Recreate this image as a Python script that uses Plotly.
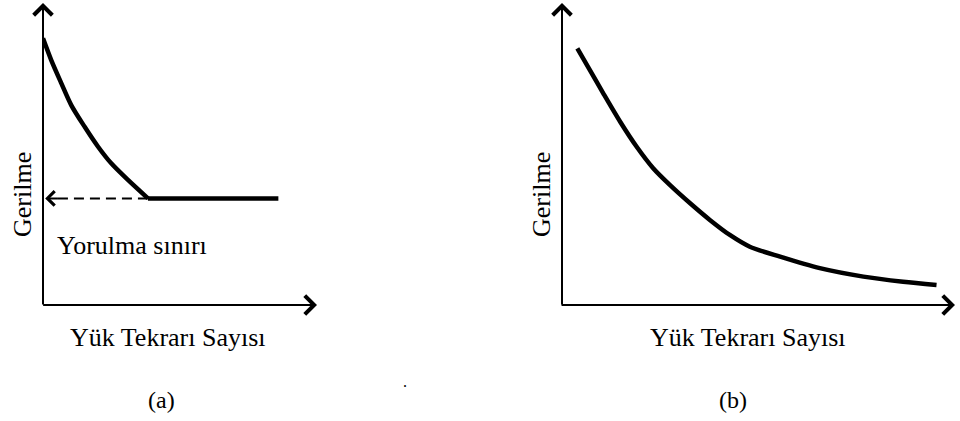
import plotly.graph_objects as go

# ---- data (schematic S-N curves, arbitrary units 0-10) ----
a_cycles = [0.00, 0.30, 0.67, 1.03, 1.52, 2.01, 2.49, 3.10, 3.83]
a_stress = [8.83, 8.11, 7.34, 6.62, 5.90, 5.24, 4.69, 4.14, 3.53]
a_limit_cycles = [3.83, 8.59]
fatigue_limit = 3.53
a_dash_cycles = [3.83, 0.45]

b_cycles = [0.39, 0.71, 1.05, 1.48, 1.90, 2.32, 2.75, 3.26, 3.77, 4.27, 4.78,
            5.55, 6.56, 7.67, 8.68, 9.53]
b_stress = [8.50, 7.78, 7.01, 6.07, 5.24, 4.53, 3.97, 3.37, 2.81, 2.32, 1.93,
            1.60, 1.22, 0.94, 0.77, 0.66]

y_label = "Gerilme"
x_label = "Yük Tekrarı Sayısı"
limit_label = "Yorulma sınırı"
panel_labels = ["(a)", "(b)"]

W, H = 960, 421
FONT = "Liberation Serif, Times New Roman, serif"


def px(x):
    return x / W


def py(y):
    return 1 - y / H


fig = go.Figure()

CURVE_W = 4.5
# panel (a)
fig.add_trace(go.Scatter(x=a_cycles, y=a_stress, mode="lines",
                         line=dict(color="black", width=CURVE_W, shape="spline", smoothing=0.8),
                         xaxis="x", yaxis="y", hoverinfo="skip"))
fig.add_trace(go.Scatter(x=a_limit_cycles, y=[fatigue_limit] * len(a_limit_cycles), mode="lines",
                         line=dict(color="black", width=CURVE_W),
                         xaxis="x", yaxis="y", hoverinfo="skip"))
fig.add_trace(go.Scatter(x=a_dash_cycles, y=[fatigue_limit] * len(a_dash_cycles), mode="lines",
                         line=dict(color="black", width=2, dash="10px,6px"),
                         xaxis="x", yaxis="y", hoverinfo="skip"))
# panel (b)
fig.add_trace(go.Scatter(x=b_cycles, y=b_stress, mode="lines",
                         line=dict(color="black", width=CURVE_W, shape="spline", smoothing=0.8),
                         xaxis="x2", yaxis="y2", hoverinfo="skip"))

ax_common = dict(visible=False, range=[0, 10], showgrid=False, zeroline=False, fixedrange=True)
fig.update_layout(
    width=W, height=H,
    margin=dict(l=0, r=0, t=0, b=0),
    paper_bgcolor="white", plot_bgcolor="white",
    showlegend=False,
    xaxis=dict(domain=[px(43), px(317)], **ax_common),
    yaxis=dict(domain=[py(305), py(3)], **ax_common),
    xaxis2=dict(domain=[px(562), px(955)], anchor="y2", **ax_common),
    yaxis2=dict(domain=[py(305), py(3)], anchor="x2", **ax_common),
)

annotations = []


def arrow(xref, yref, x, y, ax, ay, size=1.8):
    annotations.append(dict(x=x, y=y, ax=ax, ay=ay, xref=xref, yref=yref,
                            axref=xref, ayref=yref, text="", showarrow=True,
                            arrowhead=4, arrowsize=size, arrowwidth=2, arrowcolor="black",
                            standoff=0, startstandoff=0))


# axes as arrows
arrow("x", "y", 0, 10, 0, -0.03)
arrow("x", "y", 10, 0, -0.05, 0)
arrow("x2", "y2", 0, 10, 0, -0.03)
arrow("x2", "y2", 10, 0, -0.05, 0)
# dashed arrow head to y-axis
arrow("x", "y", 0.08, fatigue_limit, 0.6, fatigue_limit, size=1.4)


def text(x, y, s, angle=0, size=26):
    annotations.append(dict(x=px(x), y=py(y), xref="paper", yref="paper", text=s,
                            showarrow=False, textangle=angle, xanchor="center", yanchor="middle",
                            font=dict(family=FONT, size=size, color="black")))


text(22, 195, y_label, angle=-90)
text(541, 195, y_label, angle=-90)
text(132, 246, limit_label)
text(168, 337, x_label)
text(748, 337, x_label)
text(161, 400, panel_labels[0], size=24)
text(733, 400, panel_labels[1], size=24)
# small printed speck between the panel captions
text(405, 381, ".", size=16)

fig.update_layout(annotations=annotations)
fig.write_html("out.html", config={"displayModeBar": False, "staticPlot": True},
               post_script="document.body.style.margin='0';document.body.style.overflow='hidden';")
